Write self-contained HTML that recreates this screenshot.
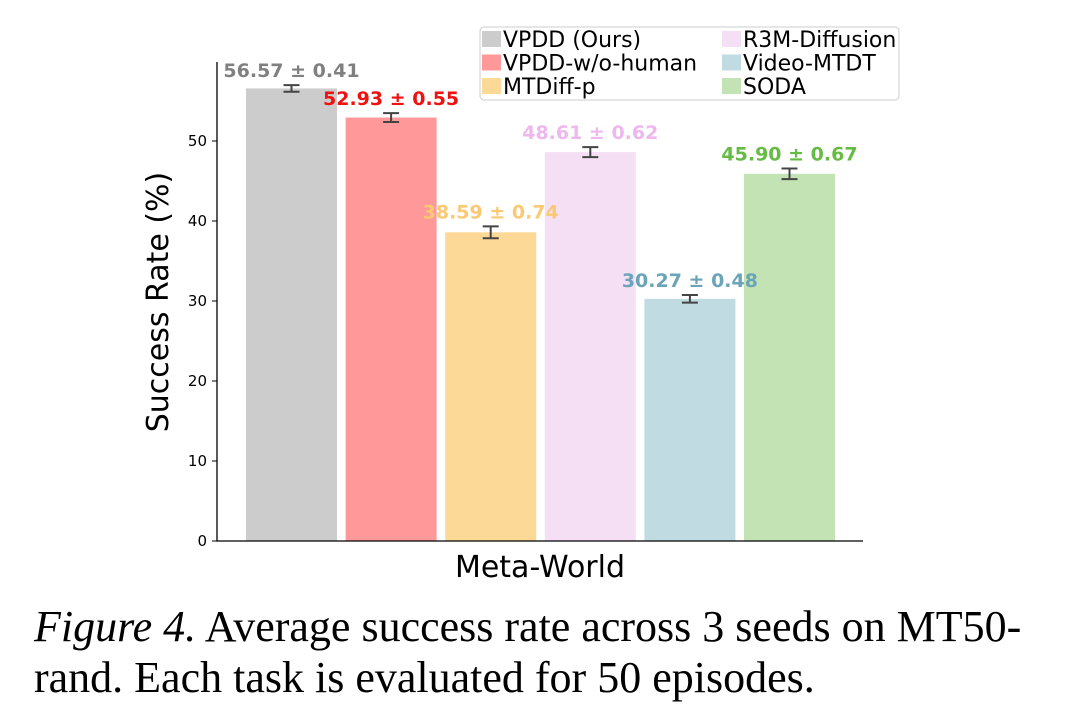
<!DOCTYPE html>
<html><head><meta charset="utf-8"><style>
body{margin:0;background:#fff;width:1076px;height:702px;overflow:hidden}
svg text{font-family:"DejaVu Sans","Liberation Sans",sans-serif}
</style></head><body>
<svg width="1076" height="702" id="chart">
<text x="168" y="302" transform="rotate(-90 168 302)" text-anchor="middle" font-size="30">Success Rate (%)</text>
<text x="540" y="577" text-anchor="middle" font-size="30">Meta-World</text>
<text x="34" y="641" font-size="44" style="font-family:'Liberation Serif',serif"><tspan font-style="italic">Figure 4.</tspan> Average success rate across 3 seeds on MT50-</text>
<text x="34" y="692" font-size="44" style="font-family:'Liberation Serif',serif">rand. Each task is evaluated for 50 episodes.</text>
</svg>
<script>
const categories=["VPDD (Ours)","VPDD-w/o-human","MTDiff-p","R3M-Diffusion","Video-MTDT","SODA"];
const values=[56.57,52.93,38.59,48.61,30.27,45.90];
const errors=[0.41,0.55,0.74,0.62,0.48,0.67];
const yTicks=[0,10,20,30,40,50];
const colors=["#cccccc","#ff9999","#fdd998","#f5dff5","#c0dbe2","#c3e3b4"];
const labelColors=["#808080","#ee1111","#fbc974","#eeb7ee","#6aa4b8","#66bb44"];
const NS="http://www.w3.org/2000/svg";
const svg=document.getElementById('chart');
const y0=541,ppu=8,left=217,right=863;
const y=v=>y0-v*ppu;
const xb=i=>246+i*99.6;
const bw=91;
function mk(t,a){const e=document.createElementNS(NS,t);for(const k in a)e.setAttribute(k,a[k]);svg.appendChild(e);return e;}
values.forEach((v,i)=>{
 const r=mk('rect',{x:xb(i),y:y(v),width:bw,height:v*ppu,fill:colors[i]});
 
 
 const cx=xb(i)+bw/2,e=errors[i];
 const g=mk('path',{d:`M${cx},${y(v+e)}V${y(v-e)}M${cx-8},${y(v+e)}H${cx+8}M${cx-8},${y(v-e)}H${cx+8}`,stroke:'#444',"stroke-width":2,fill:'none'});
 
 
});
values.forEach((v,i)=>{
 const cx=xb(i)+bw/2,e=errors[i];
 const t=mk('text',{x:cx,y:y(v+e)-8,"text-anchor":"middle","font-size":19,"font-weight":"bold",fill:labelColors[i]});
 t.textContent=v.toFixed(2)+' ± '+e.toFixed(2);
 
 
});
const ax=mk('path',{d:`M${left},62V${y0}H${right}`,stroke:'#000',"stroke-width":1.3,fill:'none'});


yTicks.forEach(v=>{
 mk('line',{x1:left-5,x2:left,y1:y(v),y2:y(v),stroke:'#000'});
 const t=mk('text',{x:left-10,y:y(v)+5,"text-anchor":"end","font-size":15});
 t.textContent=v;
 
 
});
const lg=mk('rect',{x:480,y:27,width:419,height:73,rx:4,fill:'#fff',stroke:'#ccc'});


categories.forEach((c,i)=>{
 const col=Math.floor(i/3),row=i%3;
 const lx=col?722:482,ly=31+row*23.5;
 mk('rect',{x:lx,y:ly,width:19,height:16,fill:colors[i]});
 const t=mk('text',{x:lx+21,y:ly+16,"font-size":22});
 t.textContent=c;
 
 
});
</script>
</body></html>
